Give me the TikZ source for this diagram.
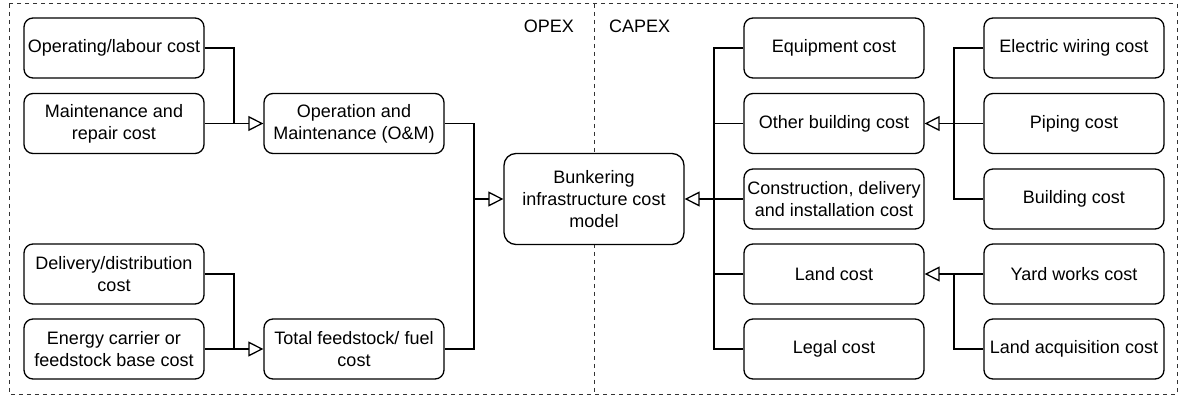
\documentclass[tikz,border=0pt]{standalone}
\usepackage{fontspec}
\setmainfont{Liberation Sans}
\usetikzlibrary{arrows.meta}
\tikzset{
  costbox/.style={draw=black, fill=white, line width=1.3pt, rounded corners=9pt,
    minimum width=180pt, minimum height=60pt, inner sep=0pt, align=center,
    font=\fontsize{18}{22}\selectfont},
  mainbox/.style={costbox, minimum height=91pt, rounded corners=12pt},
  conn/.style={line width=1.3pt, draw=black},
  tri/.style={conn, -{Triangle[open, length=15pt, width=15pt, line width=1.3pt]}},
  frame/.style={draw=black!80, line width=1pt, dash pattern=on 4pt off 4pt},
  lbl/.style={inner sep=0pt, font=\fontsize{18}{22}\selectfont}
}
\begin{document}
\begin{tikzpicture}[x=1pt,y=-1pt]
\useasboundingbox (0,0) rectangle (1179,398);
% frame
\draw[frame] (9,4) rectangle (1177,394);
\coordinate (dtop) at (594,4);
\coordinate (dbot) at (594,394);
\draw[frame] (dtop) -- (dbot);
\node[lbl, anchor=east] (opex) at (574,26) {OPEX};
\node[lbl, anchor=west] (capex) at (609,26) {CAPEX};
% left
\node[costbox] (ol) at (114,48) {Operating/labour cost};
\node[costbox] (mr) at (114,123.5) {Maintenance and\\repair cost};
\node[costbox] (dd) at (114,274) {Delivery/distribution\\cost};
\node[costbox] (ec) at (114,349) {Energy carrier or\\feedstock base cost};
\node[costbox] (om) at (354,123.5) {Operation and\\Maintenance (O\&M)};
\node[costbox] (tf) at (354,349) {Total feedstock/ fuel\\cost};
\node[mainbox] (bk) at (594,199) {Bunkering\\infrastructure cost\\model};
% right
\node[costbox] (eq) at (834,48) {Equipment cost};
\node[costbox] (ob) at (834,123.5) {Other building cost};
\node[costbox] (cd) at (834,199) {Construction, delivery\\and installation cost};
\node[costbox] (lc) at (834,274) {Land cost};
\node[costbox] (lg) at (834,349) {Legal cost};
\node[costbox] (ew) at (1074,48) {Electric wiring cost};
\node[costbox] (pc) at (1074,123.5) {Piping cost};
\node[costbox] (bc) at (1074,199) {Building cost};
\node[costbox] (yw) at (1074,274) {Yard works cost};
\node[costbox] (la) at (1074,349) {Land acquisition cost};
% junctions
\coordinate (j1) at (234,123.5);
\coordinate (j2) at (234,349);
\coordinate (jb) at (474,199);
\coordinate (jr) at (714,199);
\coordinate (k1) at (954,123.5);
\coordinate (k2) at (954,274);
% connectors left
\draw[conn] (ol.east) -| (j1);
\draw[tri] (mr.east) -- (om.west);
\draw[conn] (dd.east) -| (j2);
\draw[tri] (ec.east) -- (tf.west);
\draw[conn] (om.east) -| (jb);
\draw[conn] (tf.east) -| (jb);
\draw[tri] (jb) -- (bk.west);
% connectors right
\draw[conn] (eq.west) -| (jr);
\draw[conn] (lg.west) -| (jr);
\draw[conn] (ob.west) -- (ob.west -| jr);
\draw[conn] (lc.west) -- (lc.west -| jr);
\draw[tri] (cd.west) -- (bk.east);
\draw[conn] (ew.west) -| (k1);
\draw[conn] (bc.west) -| (k1);
\draw[tri] (pc.west) -- (ob.east);
\draw[conn] (la.west) -| (k2);
\draw[tri] (yw.west) -- (lc.east);
\end{tikzpicture}
\end{document}
